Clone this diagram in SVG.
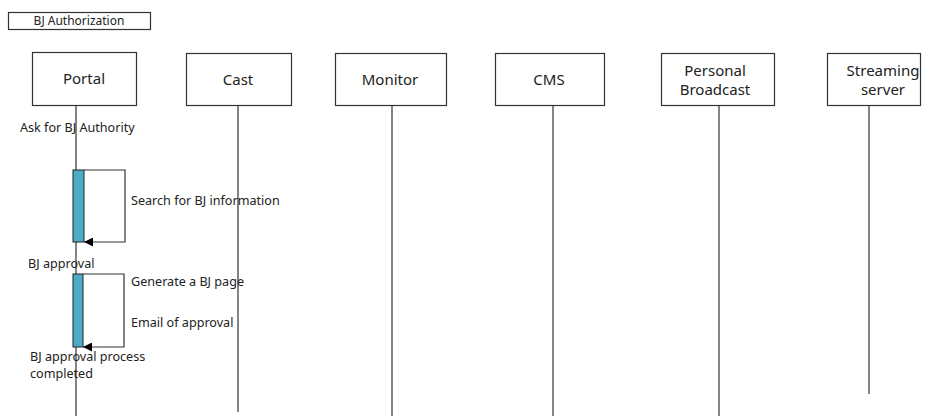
<svg xmlns="http://www.w3.org/2000/svg" width="932" height="416" viewBox="0 0 932 416">
  <style>
    .box { fill: #ffffff; stroke: #333333; stroke-width: 1.2; }
    .life { stroke: #333333; stroke-width: 1.2; fill: none; }
    .act { fill: #4BACC6; stroke: #222222; stroke-width: 1; }
    .msg { stroke: #333333; stroke-width: 1.2; fill: none; }
    .name { font-family: "Noto Sans", "DejaVu Sans", sans-serif; font-size: 15px; fill: #222222; text-anchor: middle; }
    .lbl { font-family: "Noto Sans", "DejaVu Sans", sans-serif; font-size: 12.6px; fill: #222222; }
  </style>
  <defs>
    <marker id="arr" viewBox="0 0 10 10" refX="10" refY="5" markerWidth="9" markerHeight="9" markerUnits="userSpaceOnUse" orient="auto">
      <path d="M0,0 L10,5 L0,10 z" fill="#000000"/>
    </marker>
  </defs>

  <!-- frame title -->
  <g id="title">
    <rect class="box" x="8.5" y="12.5" width="142" height="17"/>
    <text class="lbl" x="79" y="25" text-anchor="middle" style="font-size:12px">BJ Authorization</text>
  </g>

  <!-- lifelines -->
  <g id="lifelines">
    <line class="life" x1="76" y1="105" x2="76" y2="416"/>
    <line class="life" x1="238" y1="106" x2="238" y2="412"/>
    <line class="life" x1="392" y1="106" x2="392" y2="416"/>
    <line class="life" x1="553" y1="106" x2="553" y2="416"/>
    <line class="life" x1="719" y1="106" x2="719" y2="416"/>
    <line class="life" x1="869" y1="106" x2="869" y2="394"/>
  </g>

  <g id="portal">
    <rect class="box" x="32.5" y="52.5" width="104" height="53"/>
    <text class="name" x="84" y="84">Portal</text>
  </g>
  <g id="cast">
    <rect class="box" x="186.5" y="53.5" width="105" height="52"/>
    <text class="name" x="238" y="85">Cast</text>
  </g>
  <g id="monitor">
    <rect class="box" x="335.5" y="53.5" width="111" height="52"/>
    <text class="name" x="390" y="85">Monitor</text>
  </g>
  <g id="cms">
    <rect class="box" x="495.5" y="53.5" width="109" height="52"/>
    <text class="name" x="549" y="85">CMS</text>
  </g>
  <g id="personal-broadcast">
    <rect class="box" x="661.5" y="53.5" width="113" height="52"/>
    <text class="name" x="715" y="76">Personal</text>
    <text class="name" x="715" y="95">Broadcast</text>
  </g>
  <g id="streaming-server">
    <rect class="box" x="827.5" y="53.5" width="93" height="52"/>
    <text class="name" x="883" y="76">Streaming</text>
    <text class="name" x="883" y="95">server</text>
  </g>

  <!-- activations on Portal -->
  <g id="activations">
    <rect class="act" x="73" y="170" width="11" height="72"/>
    <rect class="act" x="73" y="274" width="10" height="73"/>
  </g>

  <!-- self messages -->
  <g id="connectors">
    <polyline class="msg" points="84,170 125,170 125,242 84,242" marker-end="url(#arr)"/>
    <polyline class="msg" points="83,274 124,274 124,347 83,347" marker-end="url(#arr)"/>
  </g>

  <g id="labels">
    <text class="lbl" x="20" y="132">Ask for BJ Authority</text>
    <text class="lbl" x="131" y="205">Search for BJ information</text>
    <text class="lbl" x="28" y="268">BJ approval</text>
    <text class="lbl" x="131" y="286">Generate a BJ page</text>
    <text class="lbl" x="131" y="327">Email of approval</text>
    <text class="lbl" x="30" y="361">BJ approval process</text>
    <text class="lbl" x="30" y="378">completed</text>
  </g>
</svg>
